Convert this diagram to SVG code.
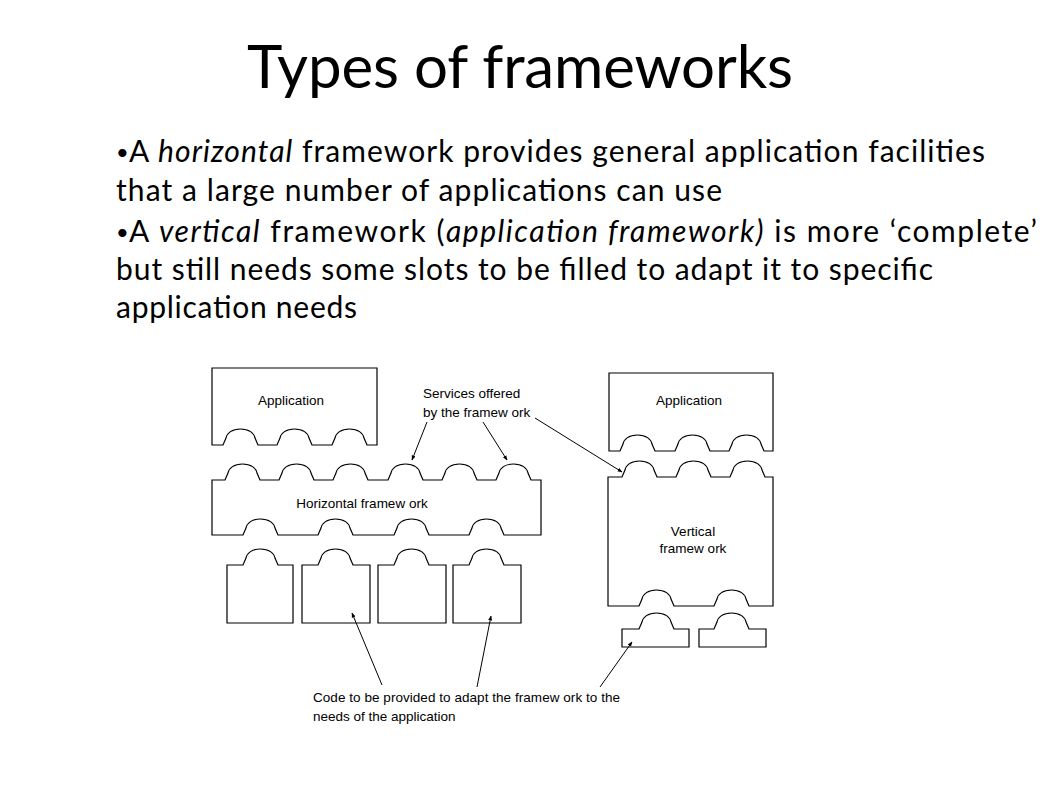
<svg xmlns="http://www.w3.org/2000/svg" width="1058" height="793" viewBox="0 0 1058 793">
<style>
.title{font-family:Lato,"Open Sans",sans-serif;font-size:60px;fill:#000}
.body{font-family:Lato,"Open Sans",sans-serif;font-size:30px;fill:#000}
.bul{font-family:Lato,"Open Sans",sans-serif;font-size:22px;fill:#000}
.it{font-style:italic}
.shape{fill:#fff;stroke:#000;stroke-width:1.2;stroke-linejoin:miter}
.lbl{font-family:"Liberation Sans",Arial,sans-serif;font-size:13.5px;fill:#000}
.lead{stroke:#000;stroke-width:1;fill:none;marker-end:url(#ah)}
</style>
<defs>
<marker id="ah" viewBox="0 0 10 10" refX="9" refY="5" markerWidth="5" markerHeight="5" orient="auto"><path d="M0,1 L10,5 L0,9 z" fill="#000"/></marker>
</defs>
<rect width="1058" height="793" fill="#fff"/>
<text class="title" x="247" y="88" textLength="546">Types of frameworks</text>
<g id="bullets">
<text class="bul" x="116" y="160">•</text>
<text class="body" x="129" y="162" textLength="856">A <tspan class="it">horizontal</tspan> framework provides general application facilities</text>
<text class="body" x="116" y="201" textLength="606">that a large number of applications can use</text>
<text class="bul" x="116" y="240">•</text>
<text class="body" x="129" y="242" textLength="908">A <tspan class="it">vertical</tspan> framework (<tspan class="it">application framework)</tspan> is more ‘complete’</text>
<text class="body" x="116" y="280" textLength="817">but still needs some slots to be filled to adapt it to specific</text>
<text class="body" x="116" y="318" textLength="241">application needs</text>
</g>
<g id="app-left">
<path class="shape" d="M212,368 V445 H223 l3,-7 c1,-5 6,-9 14.5,-9 c8.5,0 13.5,4 14.5,9 l3,7 H277 l3,-7 c1,-5 6,-9 14.5,-9 c8.5,0 13.5,4 14.5,9 l3,7 H332 l3,-7 c1,-5 6,-9 14.5,-9 c8.5,0 13.5,4 14.5,9 l3,7 H377 V368 Z"/>
<text class="lbl" x="291" y="405" text-anchor="middle">Application</text>
</g>
<g id="horizontal-framework">
<path class="shape" d="M212,535 V480 H225 l3,-7 c1,-5 6,-9 14.5,-9 c8.5,0 13.5,4 14.5,9 l3,7 H279 l3,-7 c1,-5 6,-9 14.5,-9 c8.5,0 13.5,4 14.5,9 l3,7 H333 l3,-7 c1,-5 6,-9 14.5,-9 c8.5,0 13.5,4 14.5,9 l3,7 H388 l3,-7 c1,-5 6,-9 14.5,-9 c8.5,0 13.5,4 14.5,9 l3,7 H442 l3,-7 c1,-5 6,-9 14.5,-9 c8.5,0 13.5,4 14.5,9 l3,7 H496 l3,-7 c1,-5 6,-9 14.5,-9 c8.5,0 13.5,4 14.5,9 l3,7 H541 V535 H504 l-3,-7 c-1,-5 -6,-9 -14.5,-9 c-8.5,0 -13.5,4 -14.5,9 l-3,7 H429 l-3,-7 c-1,-5 -6,-9 -14.5,-9 c-8.5,0 -13.5,4 -14.5,9 l-3,7 H353 l-3,-7 c-1,-5 -6,-9 -14.5,-9 c-8.5,0 -13.5,4 -14.5,9 l-3,7 H278 l-3,-7 c-1,-5 -6,-9 -14.5,-9 c-8.5,0 -13.5,4 -14.5,9 l-3,7 H212 Z"/>
<text class="lbl" x="362" y="508" text-anchor="middle">Horizontal framew ork</text>
</g>
<g id="code-h1"><path class="shape" d="M227,623 V565 H243 l3,-7 c1,-5 6,-9 14.5,-9 c8.5,0 13.5,4 14.5,9 l3,7 H293 V623 Z"/></g>
<g id="code-h2"><path class="shape" d="M302,623 V565 H318 l3,-7 c1,-5 6,-9 14.5,-9 c8.5,0 13.5,4 14.5,9 l3,7 H370 V623 Z"/></g>
<g id="code-h3"><path class="shape" d="M378,623 V565 H394 l3,-7 c1,-5 6,-9 14.5,-9 c8.5,0 13.5,4 14.5,9 l3,7 H446 V623 Z"/></g>
<g id="code-h4"><path class="shape" d="M453,623 V565 H469 l3,-7 c1,-5 6,-9 14.5,-9 c8.5,0 13.5,4 14.5,9 l3,7 H521 V623 Z"/></g>
<g id="app-right">
<path class="shape" d="M609,373 V451 H620 l3,-7 c1,-5 6,-9 14.5,-9 c8.5,0 13.5,4 14.5,9 l3,7 H675 l3,-7 c1,-5 6,-9 14.5,-9 c8.5,0 13.5,4 14.5,9 l3,7 H729 l3,-7 c1,-5 6,-9 14.5,-9 c8.5,0 13.5,4 14.5,9 l3,7 H773 V373 Z"/>
<text class="lbl" x="689" y="405" text-anchor="middle">Application</text>
</g>
<g id="vertical-framework">
<path class="shape" d="M608,606 V477 H622 l3,-7 c1,-5 6,-9 14.5,-9 c8.5,0 13.5,4 14.5,9 l3,7 H676 l3,-7 c1,-5 6,-9 14.5,-9 c8.5,0 13.5,4 14.5,9 l3,7 H730 l3,-7 c1,-5 6,-9 14.5,-9 c8.5,0 13.5,4 14.5,9 l3,7 H773 V606 H749 l-3,-7 c-1,-5 -6,-9 -14.5,-9 c-8.5,0 -13.5,4 -14.5,9 l-3,7 H674 l-3,-7 c-1,-5 -6,-9 -14.5,-9 c-8.5,0 -13.5,4 -14.5,9 l-3,7 H608 Z"/>
<text class="lbl" x="693" y="536" text-anchor="middle">Vertical</text>
<text class="lbl" x="693" y="553" text-anchor="middle">framew ork</text>
</g>
<g id="code-v1"><path class="shape" d="M622,647 V629 H639 l3,-7 c1,-5 6,-9 14.5,-9 c8.5,0 13.5,4 14.5,9 l3,7 H689 V647 Z"/></g>
<g id="code-v2"><path class="shape" d="M699,647 V629 H714 l3,-7 c1,-5 6,-9 14.5,-9 c8.5,0 13.5,4 14.5,9 l3,7 H766 V647 Z"/></g>
<g id="services-note">
<text class="lbl" x="423" y="398">Services offered</text>
<text class="lbl" x="423" y="417">by the framew ork</text>
</g>
<g id="code-note">
<text class="lbl" x="313" y="702" textLength="307">Code to be provided to adapt the framew ork to the</text>
<text class="lbl" x="313" y="721">needs of the application</text>
</g>
<g id="connectors">
<line class="lead" x1="427" y1="422" x2="412" y2="460"/>
<line class="lead" x1="483" y1="422" x2="507" y2="460"/>
<line class="lead" x1="535" y1="418" x2="622" y2="472"/>
<line class="lead" x1="382" y1="685" x2="352" y2="613"/>
<line class="lead" x1="477" y1="687" x2="491" y2="616"/>
<line class="lead" x1="600" y1="687" x2="632" y2="642"/>
</g>
</svg>
